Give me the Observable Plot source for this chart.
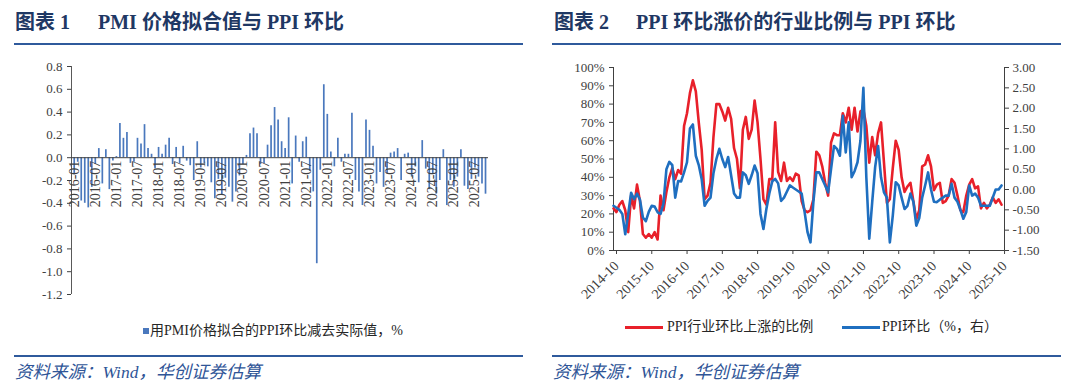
<!DOCTYPE html>
<html><head><meta charset="utf-8">
<script src="https://cdn.jsdelivr.net/npm/d3@7"></script>
<script src="https://cdn.jsdelivr.net/npm/@observablehq/plot@0.6"></script>
<style>
html,body{margin:0;padding:0;background:#fff;}
#page{position:relative;width:1080px;height:387px;overflow:hidden;font-family:"Liberation Serif","Noto Sans CJK SC",serif;}
.a{position:absolute;white-space:nowrap;}
.t{font-weight:bold;font-size:20px;line-height:20px;color:#1f3864;}
.hr{position:absolute;height:2px;background:#2f5a9c;}
.src{font-style:italic;font-size:17.5px;line-height:18px;color:#2f5597;}
.lg{font-size:14px;line-height:14px;color:#262626;}
.plot{position:absolute;}
</style></head><body><div id="page"></div>
<script>
// ---------- Chart 1 data: PMI-fitted PPI MoM minus actual (monthly, 2016-01 .. 2025-10)
const pmiDiffTickLabels = ["2016-01","2016-07","2017-01","2017-07","2018-01","2018-07","2019-01","2019-07","2020-01","2020-07","2021-01","2021-07","2022-01","2022-07","2023-01","2023-07","2024-01","2024-07","2025-01","2025-07"];
const pmiDiff = [
 -0.15,-0.04,-0.38,-0.40,-0.44,-0.26,-0.06,0.08,-0.23,0.07,
 -0.28,-0.03,0.01,0.30,0.17,0.22,-0.05,-0.04,0.17,0.12,
 0.29,0.08,0.03,-0.10,0.09,0.03,0.11,0.17,-0.06,0.09,
 -0.05,0.10,-0.03,-0.07,-0.20,0.14,-0.09,-0.05,-0.08,-0.22,
 -0.36,-0.19,-0.33,-0.18,-0.26,-0.39,-0.30,-0.16,-0.06,0.02,
 0.21,0.26,0.21,-0.06,-0.05,0.11,0.28,0.44,0.33,0.14,
 0.08,0.35,-0.23,0.19,-0.04,0.14,0.18,-0.12,-0.30,-0.93,
 -0.11,0.64,0.38,0.05,-0.08,0.17,-0.04,0.03,0.03,0.39,
 -0.20,-0.30,-0.42,0.33,0.24,0.10,-0.23,-0.13,-0.26,-0.14,
 0.04,0.05,0.08,-0.20,0.03,0.04,-0.17,-0.08,-0.22,0.15,
 -0.10,-0.28,-0.14,-0.32,-0.20,0.07,-0.42,-0.20,-0.26,-0.17,
 0.07,-0.25,-0.28,-0.19,-0.09,-0.17,-0.23,-0.32];
const pmiYTicks = [-1.2,-1.0,-0.8,-0.6,-0.4,-0.2,0,0.2,0.4,0.6,0.8];

// ---------- Chart 2 data (monthly, 2014-10 .. 2025-10)
const lineTickLabels = ["2014-10","2015-10","2016-10","2017-10","2018-10","2019-10","2020-10","2021-10","2022-10","2023-10","2024-10","2025-10"];
const ppiUpShare = [
 23,21,25,27,22,10,30,23,36,27,
 9,7,9,7,10,6,30,22,32,40,
 45,39,44,42,68,75,86,93,87,70,
 55,28,30,37,62,80,80,76,71,78,
 72,56,50,34,66,73,61,66,82,70,
 50,28,25,39,39,70,43,38,48,38,
 40,38,42,41,27,22,21,22,28,54,
 52,46,37,30,59,64,63,63,75,70,
 78,66,78,65,76,77,68,48,62,52,
 64,70,48,26,28,45,60,55,40,32,
 35,37,27,17,22,46,47,52,46,33,
 36,37,26,27,30,39,37,30,22,21,
 30,36,39,34,35,23,26,23,25,29,
 26,28,25];
const ppiMoM = [
 -0.40,-0.45,-0.50,-0.60,-1.10,-0.60,-0.08,-0.24,-0.10,-0.25,
 -0.69,-0.78,-0.55,-0.40,-0.42,-0.56,-0.60,-0.35,0.50,0.68,
 0.60,-0.20,0.21,0.20,0.42,0.67,1.50,1.60,0.83,0.60,
 0.25,-0.40,-0.28,-0.20,0.40,0.75,1.00,0.75,0.55,0.80,
 0.35,-0.10,-0.20,-0.20,0.42,0.35,0.14,0.35,0.59,0.40,
 -0.60,-0.97,-0.48,-0.10,0.20,0.26,0.15,-0.28,-0.20,-0.05,
 0.10,0.05,0.00,-0.05,-0.10,-0.55,-1.05,-1.30,-0.30,0.42,
 0.42,0.26,0.10,-0.07,0.50,1.07,1.00,0.83,1.81,0.91,
 1.65,0.30,0.45,0.67,1.20,2.50,0.30,-1.21,-0.31,0.55,
 1.07,0.30,-0.07,-0.20,-1.30,-0.64,0.18,0.10,-0.20,-0.48,
 -0.40,-0.10,-0.30,-0.89,-0.70,-0.20,0.10,0.42,0.00,-0.30,
 -0.31,-0.25,-0.20,-0.15,-0.15,0.14,-0.20,-0.30,-0.50,-0.72,
 -0.55,0.10,-0.15,-0.10,-0.20,-0.40,-0.40,-0.40,-0.40,-0.20,
 0.00,0.00,0.10];
const pctTicks = [0,10,20,30,40,50,60,70,80,90,100];
const momTicks = [-1.5,-1.0,-0.5,0,0.5,1.0,1.5,2.0,2.5,3.0];

// ---------- layout helpers
const page = document.getElementById("page");
function el(cls, css, html) {
  const d = document.createElement("div");
  d.className = cls; d.style.cssText = css; if (html != null) d.innerHTML = html;
  page.appendChild(d); return d;
}
const axisStyle = {fontFamily: '"Liberation Serif","Noto Sans CJK SC",serif', fontSize: "13px", color: "#404040", background: "transparent", overflow: "visible"};

// titles
el("a t", "left:15px;top:12px;", "图表 1");
el("a t", "left:98px;top:12px;", "PMI 价格拟合值与 PPI 环比");
el("a t", "left:554px;top:12px;", "图表 2");
el("a t", "left:636px;top:12px;", "PPI 环比涨价的行业比例与 PPI 环比");
el("hr", "left:14px;top:43px;width:509px;");
el("hr", "left:552px;top:43px;width:509px;");

// ---------- Chart 1
const barData = pmiDiff.map((v, i) => ({i, v}));
const barTicks = pmiDiffTickLabels.map((label, k) => ({i: k * 6, label}));
const left = Plot.plot({
  width: 530, height: 250,
  marginLeft: 71, marginRight: 42, marginTop: 11, marginBottom: 11,
  style: axisStyle,
  x: {domain: [-0.77, 117.85], axis: null, label: null},
  y: {domain: [-1.2, 0.8], label: null},
  marks: [
    Plot.axisY({ticks: pmiYTicks, tickFormat: d => d.toFixed(1), tickSize: 4, tickPadding: 5, label: null}),
    Plot.ruleX(barData, {x: "i", y1: 0, y2: "v", stroke: "#4a78bd", strokeWidth: 1.7}),
    Plot.ruleX([-0.77], {stroke: "#595959"}),
    Plot.ruleY([0], {stroke: "#404040"}),
    Plot.text(barTicks, {x: "i", y: 0, text: "label", rotate: -90, textAnchor: "end", dy: 3, fill: "#404040", fontSize: 14})
  ]
});
left.classList.add("plot");
left.style.left = "0px"; left.style.top = "55px";
page.appendChild(left);

el("a", "left:143px;top:328px;width:6px;height:6px;background:#4a78bd;");
el("a lg", "left:150px;top:324px;", "用PMI价格拟合的PPI环比减去实际值，%");

// ---------- Chart 2 (dual axis: right values mapped onto the percent scale)
const toP = v => 100 - (3 - v) / 4.5 * 100;
const toV = p => { const v = Math.round((3 - (100 - p) * 0.045) * 100) / 100; return v === 0 ? 0 : v; };
const redData = ppiUpShare.map((p, i) => ({i, p}));
const blueData = ppiMoM.map((v, i) => ({i, p: toP(v)}));
const right = Plot.plot({
  width: 510, height: 270,
  marginLeft: 58, marginRight: 61, marginTop: 12, marginBottom: 75,
  style: axisStyle,
  x: {domain: [0, 133], label: null},
  y: {domain: [0, 100], label: null},
  marks: [
    Plot.axisY({ticks: pctTicks, tickFormat: d => d + "%", tickSize: 4, tickPadding: 5, label: null}),
    Plot.axisY({anchor: "right", ticks: momTicks.map(toP), tickFormat: p => toV(p).toFixed(2), tickSize: 4, tickPadding: 4, label: null}),
    Plot.axisX({ticks: lineTickLabels.map((d, k) => k * 12), tickFormat: d => lineTickLabels[Math.round(d / 12)], tickRotate: -45, tickSize: 4, tickPadding: 9, dx: 3, fontSize: 14, label: null}),
    Plot.ruleX([0], {stroke: "#404040"}),
    Plot.ruleX([133], {stroke: "#404040"}),
    Plot.ruleY([0], {stroke: "#404040"}),
    Plot.lineY(redData, {x: "i", y: "p", stroke: "#e8202a", strokeWidth: 2.6}),
    Plot.lineY(blueData, {x: "i", y: "p", stroke: "#1f6fc0", strokeWidth: 2.6})
  ]
});
right.classList.add("plot");
right.style.left = "555px"; right.style.top = "55px";
page.appendChild(right);

el("a", "left:625px;top:326px;width:38px;height:3px;background:#e8202a;");
el("a lg", "left:667px;top:320px;", "PPI行业环比上涨的比例");
el("a", "left:842px;top:326px;width:38px;height:3px;background:#1f6fc0;");
el("a lg", "left:882px;top:320px;", "PPI环比（%，右）");

// footers
el("hr", "left:14px;top:355px;width:509px;");
el("hr", "left:552px;top:355px;width:509px;");
el("a src", "left:15px;top:363px;", "资料来源：Wind，华创证券估算");
el("a src", "left:553px;top:363px;", "资料来源：Wind，华创证券估算");
</script></body></html>
